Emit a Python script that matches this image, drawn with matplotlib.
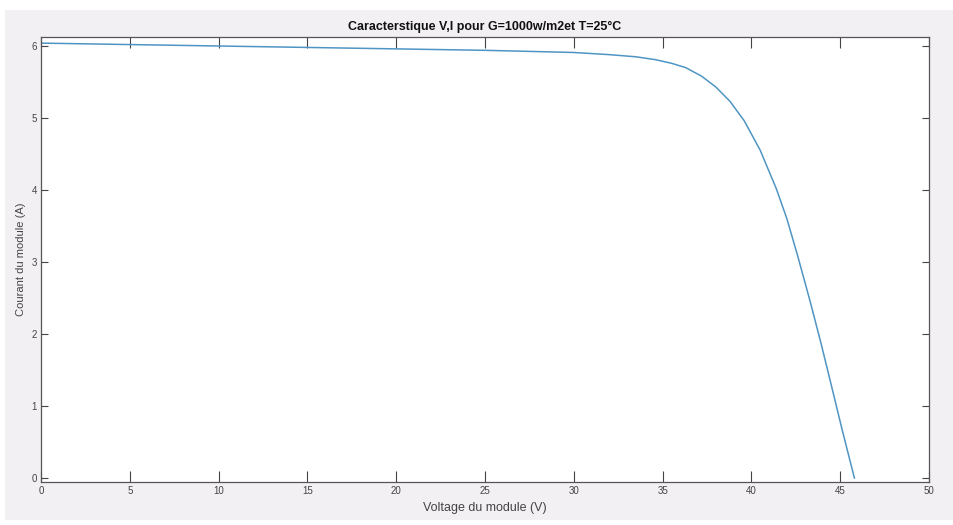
import numpy as np
import matplotlib
matplotlib.use("Agg")
import matplotlib.pyplot as plt
from matplotlib.patches import Rectangle

# points (voltage in V, current in A)
voltage = [0, 5, 10, 15, 20, 25, 30, 32, 33.5, 34.6, 35.5, 36.3, 37.2, 38.0,
           38.8, 39.6, 40.5, 41.4, 42.0, 42.6, 43.3, 43.9, 44.4, 45.1, 45.8]
current = [6.04, 6.02, 6.00, 5.98, 5.96, 5.94, 5.91, 5.88, 5.85, 5.81, 5.76, 5.70,
           5.58, 5.43, 5.23, 4.96, 4.55, 4.02, 3.60, 3.09, 2.46, 1.89, 1.39, 0.68, 0.0]

xticks = [0, 5, 10, 15, 20, 25, 30, 35, 40, 45, 50]
yticks = [0, 1, 2, 3, 4, 5, 6]

plt.rcParams['font.family'] = ['Liberation Sans', 'DejaVu Sans']

fig = plt.figure(figsize=(9.54, 5.25), dpi=100, facecolor='white')
fig.patches.append(Rectangle((5/954, 5/525), 1, 1 - 15/525, transform=fig.transFigure,
                             facecolor='#f2f0f3', edgecolor='none', zorder=-10))

ax = fig.add_axes([41/954, 1 - 482/525, 888/954, 445/525])
ax.set_facecolor('white')
ax.plot(voltage, current, color='#4f95c4', linewidth=1.1)

ax.set_xlim(0, 50)
ax.set_ylim(-0.055, 6.125)
ax.set_xticks(xticks)
ax.set_yticks(yticks)
ax.tick_params(direction='in', top=True, right=True, labelsize=7, colors='#444444',
               length=5, width=0.8, pad=3)
ax.tick_params(axis='x', length=8)
for s in ax.spines.values():
    s.set_color('#555555')
    s.set_linewidth(0.9)

ax.set_title('Caracterstique V,I pour G=1000w/m2et T=25°C', fontsize=9,
             fontweight='bold', color='#111111', pad=5)
ax.set_xlabel('Voltage du module (V)', fontsize=9, color='#444444', labelpad=4)
ax.set_ylabel('Courant du module (A)', fontsize=8, color='#444444', labelpad=4)

fig.savefig('out.png', dpi=100, facecolor=fig.get_facecolor())
